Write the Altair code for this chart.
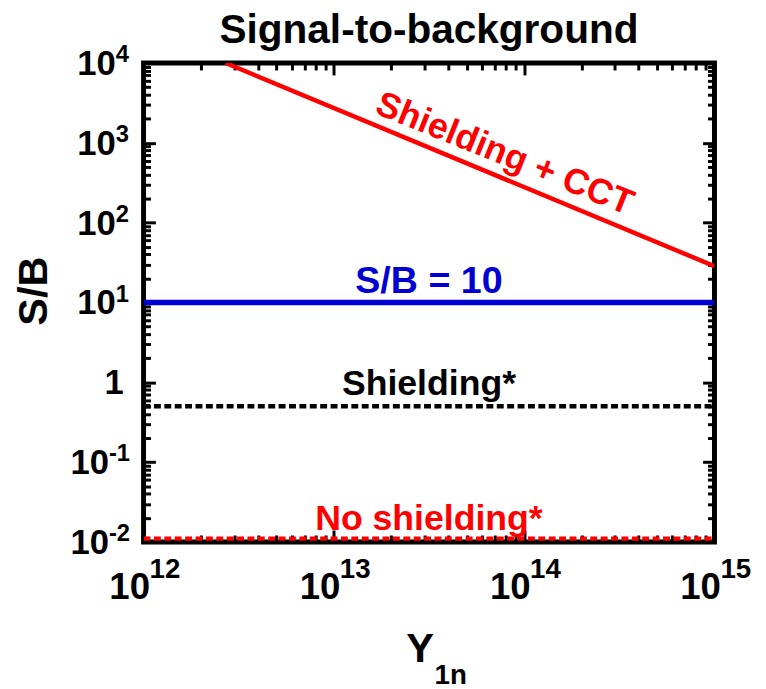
import altair as alt
import pandas as pd

F = "Liberation Sans"

# ---- data ----
x_domain = [1e12, 1e15]
y_domain = [1e-2, 1e4]

cct_Y = [2.7e12, 1e15]
cct_SB = [1e4, 28.5]

sb10_Y = [1e12, 1e15]
sb10_SB = [10, 10]

shield_Y = [1e12, 1e15]
shield_SB = [0.5, 0.5]

noshield_Y = [1e12, 1e15]
noshield_SB = [0.011, 0.011]

x_major = [1e12, 1e13, 1e14, 1e15]
x_exp = ["12", "13", "14", "15"]
x_minor = [k * 10.0 ** e for e in (12, 13, 14) for k in range(2, 10)]

y_major_pos = [1e1, 1e2, 1e3, 1e4]
y_exp_pos = ["1", "2", "3", "4"]
y_major_neg = [1e-2, 1e-1]
y_exp_neg = ["-2", "-1"]
y_one = [1.0]
y_major = y_major_neg + y_one + y_major_pos
y_minor = [k * 10.0 ** e for e in (-2, -1, 0, 1, 2, 3) for k in range(2, 10)]

title_text = "Signal-to-background"
x_mid = 3.16e13  # geometric middle of the x range

W, H = 577, 484

xs = alt.Scale(type="log", domain=x_domain, nice=False)
ys = alt.Scale(type="log", domain=y_domain, nice=False)


def df(xv, yv, **extra):
    d = {"Y": xv, "SB": yv}
    d.update(extra)
    return pd.DataFrame(d)


def enc(chart, xaxis=None, yaxis=None):
    return chart.encode(
        x=alt.X("Y:Q", scale=xs, axis=xaxis),
        y=alt.Y("SB:Q", scale=ys, axis=yaxis),
    )


layers = []

# ---- lines ----
layers.append(enc(alt.Chart(df(noshield_Y, noshield_SB)).mark_line(
    color="#ff0000", strokeWidth=4.5, strokeDash=[7, 3.5], clip=True)))
layers.append(enc(alt.Chart(df(shield_Y, shield_SB)).mark_line(
    color="black", strokeWidth=4.5, strokeDash=[7, 3.5], clip=True)))
layers.append(enc(alt.Chart(df(sb10_Y, sb10_SB)).mark_line(
    color="#0000d0", strokeWidth=5.5, clip=True)))
layers.append(enc(alt.Chart(df(cct_Y, cct_SB)).mark_line(
    color="#ff0000", strokeWidth=4.5, clip=True)))

# ---- annotations ----
def label(text, xv, yv, color, dy=0, angle=0, baseline="alphabetic", size=36):
    return enc(alt.Chart(df([xv], [yv], t=[text])).mark_text(
        font=F, fontSize=size, fontWeight="bold", color=color, align="center",
        baseline=baseline, dy=dy, angle=angle).encode(text="t:N"))

layers.append(label("S/B = 10", x_mid, 10, "#0000d0", dy=-10, size=38))
layers.append(label("Shielding*", x_mid, 0.5, "black", dy=-11))
layers.append(label("No shielding*", x_mid, 0.011, "#ff0000", dy=-9))
layers.append(label("Shielding + CCT", 7.9e13, 724, "#ff0000", angle=22, baseline="middle"))
# chart title, centred over the plot
layers.append(label(title_text, x_mid, y_domain[1], "black", dy=-20, size=41))

# ---- tick labels (base + exponent) ----
def tick_text(xv, yv, texts, size, align, dx, dy):
    return enc(alt.Chart(df(xv, yv, t=texts)).mark_text(
        font=F, fontSize=size, fontWeight="bold", color="black", align=align,
        baseline="middle", dx=dx, dy=dy).encode(text="t:N"))

# x axis
layers.append(tick_text(x_major, [y_domain[0]] * 4, ["10"] * 4, 37, "center", -14, 47))
layers.append(tick_text(x_major, [y_domain[0]] * 4, x_exp, 28, "left", 6, 28))
# y axis
layers.append(tick_text([x_domain[0]] * 4, y_major_pos, ["10"] * 4, 35, "right", -28, 1))
layers.append(tick_text([x_domain[0]] * 4, y_major_pos, y_exp_pos, 24, "left", -28, -8))
layers.append(tick_text([x_domain[0]] * 2, y_major_neg, ["10"] * 2, 35, "right", -35, 1))
layers.append(tick_text([x_domain[0]] * 2, y_major_neg, y_exp_neg, 24, "left", -35, -8))
layers.append(tick_text([x_domain[0]], y_one, ["1"], 35, "right", -20, 1))

# ---- axes: titles and inward ticks ----
dummy = df(shield_Y, shield_SB)
common = dict(labels=False, domain=False, grid=False)

main_x = alt.Axis(orient="bottom", ticks=False, title="Y", titleFont=F, titleFontSize=42,
                  titleFontWeight="bold", titleColor="black", titleX=279, titleY=121,
                  titleAlign="center", titleBaseline="alphabetic", **common)
main_y = alt.Axis(orient="left", ticks=False, title="S/B", titleFont=F, titleFontSize=42,
                  titleFontWeight="bold", titleColor="black", titleAngle=270, titleX=-98,
                  titleY=230, titleAlign="center", titleBaseline="alphabetic", **common)
layers.append(enc(alt.Chart(dummy).mark_point(opacity=0), main_x, main_y))

sub_x = alt.Axis(orient="bottom", ticks=False, title="1n", titleFont=F, titleFontSize=28,
                 titleFontWeight="bold", titleColor="black", titleX=310, titleY=143,
                 titleAlign="center", titleBaseline="alphabetic", **common)
sub_y = alt.Axis(orient="left", ticks=False, title=None, **common)
layers.append(enc(alt.Chart(dummy).mark_point(opacity=0), sub_x, sub_y))


def tick_axes(xo, yo, xvals, yvals, size):
    ax = alt.Axis(orient=xo, offset=-H, values=xvals, ticks=True, tickSize=size, tickWidth=3,
                  tickColor="black", title=None, **common)
    ay = alt.Axis(orient=yo, offset=-W, values=yvals, ticks=True, tickSize=size, tickWidth=3,
                  tickColor="black", title=None, **common)
    return enc(alt.Chart(dummy).mark_point(opacity=0), ax, ay)

layers.append(tick_axes("top", "right", x_major, y_major, 12))
layers.append(tick_axes("top", "right", x_minor, y_minor, 7))
layers.append(tick_axes("bottom", "left", x_major, y_major, 12))
layers.append(tick_axes("bottom", "left", x_minor, y_minor, 7))

chart = alt.layer(*layers).resolve_axis(x="independent", y="independent").properties(
    width=W,
    height=H,
    autosize=alt.AutoSizeParams(type="none"),
    padding={"left": 137, "top": 52, "right": 44, "bottom": 145},
).configure(background="white").configure_view(stroke="black", strokeWidth=5)

chart.save("out.html", embed_options={"renderer": "svg", "actions": False})
